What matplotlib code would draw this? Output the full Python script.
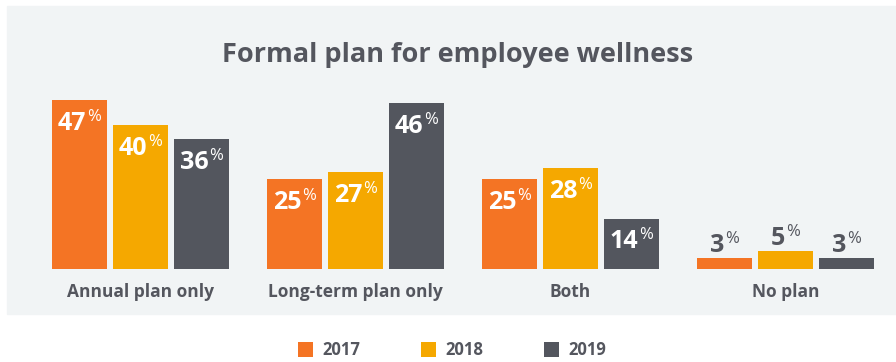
import matplotlib
matplotlib.use("Agg")
import matplotlib.pyplot as plt
import numpy as np
from matplotlib.patches import Rectangle

plt.rcParams["font.family"] = ["Open Sans", "DejaVu Sans"]

categories = ["Annual plan only", "Long-term plan only", "Both", "No plan"]
years = ["2017", "2018", "2019"]
values = {
    "2017": [47, 25, 25, 3],
    "2018": [40, 27, 28, 5],
    "2019": [36, 46, 14, 3],
}
colors = {"2017": "#F47424", "2018": "#F5A800", "2019": "#53565E"}
TEXT = "#54565E"
PANEL = "#F1F4F5"

W, H = 896, 362
fig = plt.figure(figsize=(W / 100, H / 100), dpi=100)

# light panel behind the chart
fig.patches.append(Rectangle((7 / W, 1 - 314 / H), 1 - 7 / W, 308 / H,
                             transform=fig.transFigure, color=PANEL, zorder=-10))

# axes: baseline at y=269px, 3.6px per percent
ax = fig.add_axes([33 / W, 1 - 269 / H, 860 / W, 180 / H])
ax.set_zorder(2)
ax.set_xlim(-0.5, 3.5)
ax.set_ylim(0, 50)
ax.patch.set_alpha(0)
for s in ax.spines.values():
    s.set_visible(False)
ax.set_yticks([])

x = np.arange(len(categories))
bw = 55 / 215
step = 61 / 215


def label(xi, v, inside):
    # number plus a small raised percent sign right after it
    col = "white" if inside else TEXT
    dy = -21.5 if inside else 4.5
    num = ax.annotate(str(v), (xi, v), xytext=(-5.5, dy), textcoords="offset points",
                      ha="center", va="baseline", color=col, fontsize=18,
                      fontweight="bold")
    ax.annotate("%", (1, v), xycoords=(num, "data"), xytext=(0.8, dy + 6.5),
                textcoords="offset points", ha="left", va="baseline",
                color=col, fontsize=12)


for i, yr in enumerate(years):
    xs = x + (i - 1) * step
    ax.bar(xs, values[yr], width=bw, color=colors[yr], label=yr)
    for xi, v in zip(xs, values[yr]):
        label(xi, v, v >= 10)

ax.set_xticks(x)
ax.set_xticklabels(categories, fontsize=12.5, fontweight="bold", color=TEXT)
ax.tick_params(axis="x", length=0, pad=10)

fig.text(458 / W, 1 - 62 / H, "Formal plan for employee wellness", ha="center",
         va="baseline", fontsize=19.5, fontweight="bold", color=TEXT)

leg = fig.legend(loc="center", bbox_to_anchor=(452 / W, 1 - 350 / H), ncol=3,
                 frameon=False, handlelength=0.9, handleheight=1.0,
                 handletextpad=0.6, columnspacing=3.6,
                 prop={"size": 12, "weight": "bold"})
for t in leg.get_texts():
    t.set_color(TEXT)

fig.savefig("out.png", dpi=100)
